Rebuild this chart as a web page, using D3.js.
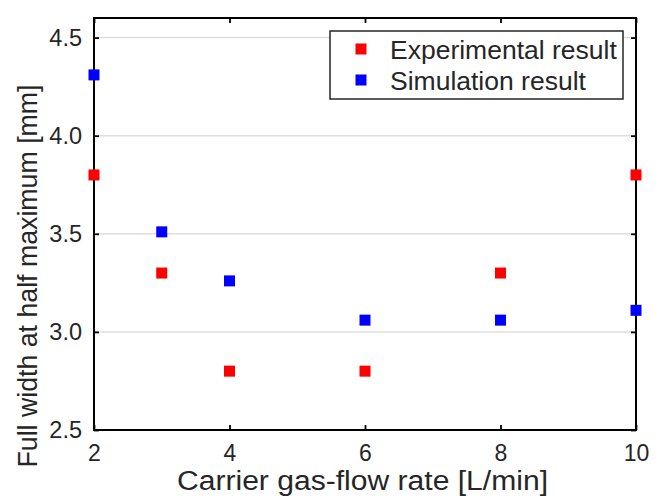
<!DOCTYPE html>
<html><head><meta charset="utf-8">
<script src="https://cdn.jsdelivr.net/npm/d3@7"></script>
<style>body{margin:0;background:#fff}svg{display:block}text{font-family:"Liberation Sans",Arial,sans-serif;fill:#262626}</style>
</head><body>
<svg id="c" width="664" height="503"></svg>
<script>
const flowRates = [2, 3, 4, 6, 8, 10];
const experimental = [3.8, 3.3, 2.8, 2.8, 3.3, 3.8];
const simulation = [4.31, 3.51, 3.26, 3.06, 3.06, 3.11];
const xTicks = [2, 4, 6, 8, 10];
const yTicks = [2.5, 3.0, 3.5, 4.0, 4.5];
const seriesNames = ["Experimental result", "Simulation result"];
const seriesColors = ["#ff0000", "#0000ff"];

const svg = d3.select("#c");
const m = {l: 94, r: 636, t: 18, b: 430};
const x = d3.scaleLinear().domain([2, 10]).range([m.l, m.r]);
const y = d3.scaleLinear().domain([2.5, 4.6]).range([m.b, m.t]);

// grid
svg.append("g").selectAll("line").data(yTicks.filter(v => v > 2.5)).join("line")
  .attr("x1", m.l).attr("x2", m.r).attr("y1", d => y(d)).attr("y2", d => y(d))
  .attr("stroke", "#dedede").attr("stroke-width", 1.5);

// axes
const ax = d3.axisBottom(x).tickValues(xTicks).tickFormat(d3.format("d")).tickSizeInner(-5).tickSizeOuter(0).tickPadding(15);
const ay = d3.axisLeft(y).tickValues(yTicks).tickFormat(d3.format(".1f")).tickSizeInner(-5).tickSizeOuter(0).tickPadding(12);
const axT = d3.axisTop(x).tickValues(xTicks).tickFormat("").tickSizeInner(-5).tickSizeOuter(0);
const ayR = d3.axisRight(y).tickValues(yTicks).tickFormat("").tickSizeInner(-5).tickSizeOuter(0);

function style(fs){
  return g => {
    g.select(".domain").remove();
    g.selectAll("line").attr("stroke", "#000").attr("stroke-width", 1.8);
    g.selectAll("text").attr("font-size", fs).attr("fill", "#262626").style("font-family", '"Liberation Sans",Arial,sans-serif');
  };
}
svg.append("g").attr("transform", `translate(0,${m.b})`).call(ax).call(style(23));
svg.append("g").attr("transform", `translate(${m.l},0)`).call(ay).call(style(23.5));
svg.append("g").attr("transform", `translate(0,${m.t})`).call(axT).call(style(23));
svg.append("g").attr("transform", `translate(${m.r},0)`).call(ayR).call(style(23));

svg.append("rect").attr("x", m.l).attr("y", m.t).attr("width", m.r - m.l).attr("height", m.b - m.t)
  .attr("fill", "none").attr("stroke", "#000").attr("stroke-width", 2);

// points
const sz = 11;
[experimental, simulation].forEach((vals, i) => {
  svg.append("g").selectAll("rect").data(vals).join("rect")
    .attr("x", (d, j) => x(flowRates[j]) - sz / 2)
    .attr("y", d => y(d) - sz / 2)
    .attr("width", sz).attr("height", sz)
    .attr("fill", seriesColors[i]);
});

// labels
svg.append("text").attr("x", (177 + 548) / 2).attr("y", 490).attr("text-anchor", "middle")
  .attr("font-size", 27).attr("textLength", 371).attr("lengthAdjust", "spacingAndGlyphs")
  .text("Carrier gas-flow rate [L/min]");
svg.append("text").attr("transform", "translate(37,276) rotate(-90)").attr("text-anchor", "middle")
  .attr("font-size", 27).attr("textLength", 383).attr("lengthAdjust", "spacingAndGlyphs")
  .text("Full width at half maximum [mm]");

// legend
const lg = svg.append("g");
lg.append("rect").attr("x", 330).attr("y", 31).attr("width", 293).attr("height", 68)
  .attr("fill", "#fff").attr("stroke", "#262626").attr("stroke-width", 1.5);
seriesNames.forEach((n, i) => {
  const cy = 49 + i * 31;
  lg.append("rect").attr("x", 361 - sz / 2).attr("y", cy - sz / 2).attr("width", sz).attr("height", sz).attr("fill", seriesColors[i]);
  lg.append("text").attr("x", 390).attr("y", cy + 10).attr("font-size", 26.5).attr("fill", "#000").text(n);
});
</script>
</body></html>
